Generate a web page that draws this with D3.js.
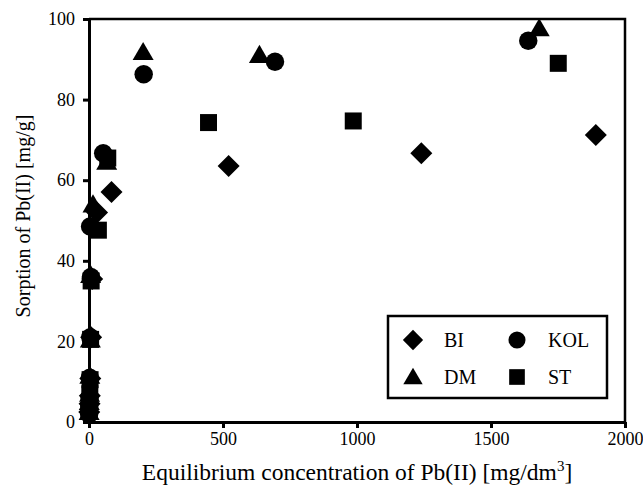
<!DOCTYPE html>
<html>
<head>
<meta charset="utf-8">
<script src="https://cdn.jsdelivr.net/npm/d3@7"></script>
<style>
  body { margin: 0; background: #fff; }
  svg { display: block; font-family: "Liberation Serif", "Times New Roman", serif; }
</style>
</head>
<body>
<svg id="chart" width="643" height="485"></svg>
<script>
// Sorption isotherms of Pb(II) on four sorbents
const seriesNames = ["BI", "KOL", "DM", "ST"];

const biX  = [1, 2, 3, 5, 8, 12, 30, 84, 521, 1240, 1891];
const biY  = [2.5, 4.5, 6.5, 10.8, 21, 35.5, 52, 57.1, 63.5, 66.7, 71.2];

const kolX = [0.5, 1, 2, 3, 5, 7, 4, 53, 204, 694, 1639];
const kolY = [2, 4, 6, 11, 21, 36, 48.5, 66.7, 86.3, 89.4, 94.6];

const dmX  = [0.5, 1, 2, 3, 5, 6, 15, 66, 202, 636, 1680];
const dmY  = [2.5, 5, 7, 11.5, 20.5, 36.5, 54, 64.6, 91.8, 91.1, 97.7];

const stX  = [1, 2, 3, 4, 6, 8, 35, 70, 446, 986, 1751];
const stY  = [3, 5, 7, 10.5, 20.5, 35, 47.6, 65.5, 74.3, 74.7, 89];

const xTicks = [0, 500, 1000, 1500, 2000];
const yTicks = [0, 20, 40, 60, 80, 100];

const svg = d3.select("#chart");
const plotL = 89, plotR = 625, plotT = 19, plotB = 422;

const x = d3.scaleLinear().domain([0, 2000]).range([plotL, plotR]);
const y = d3.scaleLinear().domain([0, 100]).range([plotB, plotT]);

// marker shapes
const diamond = { draw(ctx, size) { const r = Math.sqrt(size) / 2; ctx.moveTo(0, -r); ctx.lineTo(r, 0); ctx.lineTo(0, r); ctx.lineTo(-r, 0); ctx.closePath(); } };
const square  = { draw(ctx, size) { const s = Math.sqrt(size) / 2; ctx.rect(-s, -s, 2 * s, 2 * s); } };
const circle  = { draw(ctx, size) { const r = Math.sqrt(size) / 2; ctx.moveTo(r, 0); ctx.arc(0, 0, r, 0, 2 * Math.PI); } };
const triangle = { draw(ctx, size) { const w = Math.sqrt(size) / 2; const h = w * 0.86; ctx.moveTo(0, -h - 1); ctx.lineTo(w, h - 1); ctx.lineTo(-w, h - 1); ctx.closePath(); } };

const shapes = { BI: [diamond, 22 * 22], KOL: [circle, 18.5 * 18.5], DM: [triangle, 21 * 21], ST: [square, 17 * 17] };

const series = [
  { name: "ST", xs: stX, ys: stY },
  { name: "DM", xs: dmX, ys: dmY },
  { name: "BI", xs: biX, ys: biY },
  { name: "KOL", xs: kolX, ys: kolY }
];

// plot frame (top and right)
svg.append("path")
  .attr("d", `M${plotL},${plotT}H${plotR}V${plotB}`)
  .attr("fill", "none").attr("stroke", "#000").attr("stroke-width", 2.5);

// markers
series.forEach(s => {
  const [type, size] = shapes[s.name];
  const sym = d3.symbol().type(type).size(size);
  svg.append("g").selectAll("path")
    .data(s.xs.map((v, i) => [v, s.ys[i]]))
    .join("path")
    .attr("transform", d => `translate(${x(d[0])},${y(d[1])})`)
    .attr("d", sym)
    .attr("fill", "#000");
});

// axes
const xAxis = svg.append("g").attr("transform", `translate(0,${plotB})`)
  .call(d3.axisBottom(x).tickValues(xTicks).tickFormat(d3.format("d"))
    .tickSize(6).tickSizeOuter(0).tickPadding(4));
const yAxis = svg.append("g").attr("transform", `translate(${plotL},0)`)
  .call(d3.axisLeft(y).tickValues(yTicks).tickFormat(d3.format("d"))
    .tickSize(6).tickSizeOuter(0).tickPadding(8));

[xAxis, yAxis].forEach(a => {
  a.attr("font-family", null).attr("font-size", null);
  a.select(".domain").attr("stroke", "#000").attr("stroke-width", 3);
  a.selectAll(".tick line").attr("stroke", "#000").attr("stroke-width", 3);
  a.selectAll(".tick text").attr("fill", "#000").style("font-size", "18px");
});

// axis titles
const xTitle = svg.append("text")
  .attr("x", 357).attr("y", 480)
  .attr("text-anchor", "middle")
  .style("font-size", "23.5px");
xTitle.append("tspan").text("Equilibrium concentration of Pb(II) [mg/dm");
xTitle.append("tspan").text("3").attr("dy", -9).style("font-size", "15px");
xTitle.append("tspan").text("]").attr("dy", 9);

svg.append("text")
  .attr("transform", `translate(30,216) rotate(-90)`)
  .attr("text-anchor", "middle")
  .style("font-size", "20px")
  .text("Sorption of Pb(II) [mg/g]");

// legend
const lg = svg.append("g");
lg.append("rect").attr("x", 388).attr("y", 316).attr("width", 219).attr("height", 82)
  .attr("fill", "#fff").attr("stroke", "#000").attr("stroke-width", 2.5);

const legendItems = [
  { name: "BI", mx: 413, my: 340 },
  { name: "KOL", mx: 517, my: 340 },
  { name: "DM", mx: 413, my: 377 },
  { name: "ST", mx: 517, my: 377 }
];
legendItems.forEach(it => {
  const [type, size] = shapes[it.name];
  lg.append("path")
    .attr("transform", `translate(${it.mx},${it.my})`)
    .attr("d", d3.symbol().type(type).size(size * 0.85))
    .attr("fill", "#000");
  lg.append("text")
    .attr("x", it.mx + 31).attr("y", it.my + 7)
    .style("font-size", "20px")
    .text(it.name);
});
</script>
</body>
</html>
